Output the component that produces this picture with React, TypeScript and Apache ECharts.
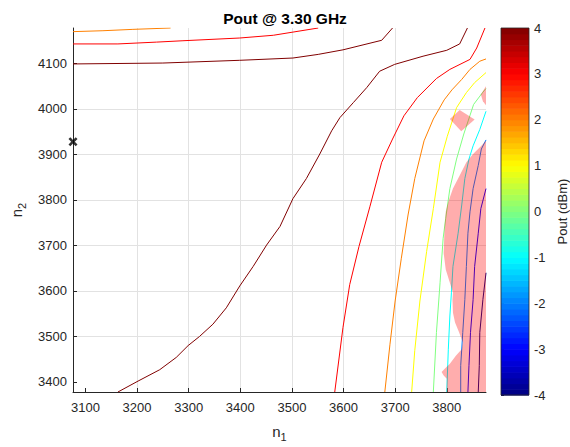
import React, { useEffect, useRef } from 'react';
import * as echarts from 'echarts';

const X_MIN = 3076;
const X_MAX = 3876;
const Y_MIN = 3378;
const Y_MAX = 4178;
const xTicks = [3100, 3200, 3300, 3400, 3500, 3600, 3700, 3800];
const yTicks = [3400, 3500, 3600, 3700, 3800, 3900, 4000, 4100];
const cbTicks = [-4, -3, -2, -1, 0, 1, 2, 3, 4];
const CB_MIN = -4;
const CB_MAX = 4;
const CB_STEPS = 64;

const marker = [[3076, 3928]];

const contour4Top = [[3076, 4099], [3250, 4101], [3399, 4107], [3502, 4112], [3551, 4120], [3599, 4130], [3674, 4151], [3695, 4178]];
const contour4Diag = [[3163, 3378], [3202, 3402], [3244, 3427], [3276, 3454], [3299, 3480], [3321, 3500], [3347, 3527], [3373, 3563], [3399, 3611], [3425, 3654], [3451, 3701], [3477, 3742], [3502, 3803], [3528, 3847], [3554, 3901], [3577, 3952], [3593, 3981], [3619, 4014], [3645, 4047], [3670, 4083], [3699, 4098], [3754, 4116], [3800, 4129], [3825, 4143], [3840, 4178]];
const contour3Top = [[3076, 4143], [3163, 4143], [3238, 4147], [3289, 4150], [3399, 4156], [3464, 4162], [3551, 4178]];
const contour3Right = [[3583, 3378], [3599, 3520], [3612, 3614], [3630, 3698], [3651, 3785], [3674, 3883], [3695, 3934], [3717, 3985], [3743, 4025], [3780, 4067], [3806, 4087], [3845, 4109], [3858, 4134], [3874, 4178]];
const contour2Top = [[3076, 4170], [3134, 4172], [3192, 4175], [3265, 4178]];
const contour2Right = [[3680, 3378], [3690, 3483], [3700, 3578], [3712, 3672], [3725, 3767], [3738, 3847], [3756, 3930], [3774, 3978], [3795, 4020], [3810, 4042], [3829, 4065], [3845, 4087], [3864, 4105], [3876, 4110]];
const contour1 = [[3732, 3378], [3738, 3469], [3748, 3578], [3761, 3687], [3774, 3781], [3787, 3883], [3801, 3940], [3819, 4003], [3838, 4036], [3854, 4058], [3876, 4080]];
const contour0 = [[3774, 3378], [3780, 3509], [3787, 3618], [3793, 3716], [3798, 3760], [3806, 3825], [3819, 3890], [3833, 3945], [3852, 4010], [3870, 4037], [3876, 4045]];
const contourM1 = [[3800, 3378], [3803, 3472], [3806, 3545], [3809, 3596], [3812, 3654], [3822, 3727], [3829, 3789], [3835, 3847], [3843, 3890], [3851, 3919], [3864, 3955], [3876, 3995]];
const contourM2 = [[3827, 3378], [3827, 3436], [3831, 3509], [3835, 3581], [3838, 3654], [3841, 3727], [3845, 3774], [3851, 3825], [3861, 3876], [3867, 3912], [3876, 3932]];
const contourM3 = [[3841, 3378], [3843, 3436], [3846, 3509], [3851, 3581], [3854, 3654], [3861, 3727], [3866, 3781], [3876, 3825]];
const contourM4 = [[3861, 3378], [3863, 3436], [3864, 3509], [3870, 3581], [3876, 3640]];

const contours = [
  { level: 4, pts: contour4Top },
  { level: 4, pts: contour4Diag },
  { level: 3, pts: contour3Top },
  { level: 3, pts: contour3Right },
  { level: 2, pts: contour2Top },
  { level: 2, pts: contour2Right },
  { level: 1, pts: contour1 },
  { level: 0, pts: contour0 },
  { level: -1, pts: contourM1 },
  { level: -2, pts: contourM2 },
  { level: -3, pts: contourM3 },
  { level: -4, pts: contourM4 },
];

const pinkDiamond = [[3806, 3978], [3825, 3998], [3854, 3977], [3828, 3951]];
const pinkEdge = [[3876, 4050], [3866, 4032], [3870, 4017], [3876, 4008]];
const pinkMain = [[3876, 3930], [3867, 3919], [3851, 3901], [3838, 3883], [3825, 3854], [3812, 3825], [3803, 3796], [3798, 3774], [3796, 3745], [3795, 3716], [3794, 3683], [3798, 3647], [3806, 3618], [3812, 3596], [3811, 3581], [3812, 3552], [3816, 3531], [3824, 3509], [3831, 3487], [3829, 3472], [3818, 3458], [3806, 3440], [3796, 3429], [3790, 3422], [3794, 3414], [3800, 3407], [3800, 3378], [3876, 3378]];
const pinkRegions = [pinkDiamond, pinkEdge, pinkMain];

const FONT = '"Liberation Sans", Arial, Helvetica, sans-serif';
const TXT = '#262626';

function jet(t: number): string {
  const c = (v: number) => Math.max(0, Math.min(1, v));
  const r = c(1.5 - Math.abs(4 * t - 3));
  const g = c(1.5 - Math.abs(4 * t - 2));
  const b = c(1.5 - Math.abs(4 * t - 1));
  return `rgb(${Math.round(r * 255)},${Math.round(g * 255)},${Math.round(b * 255)})`;
}
const levelColor = (lv: number) => jet((lv - CB_MIN) / (CB_MAX - CB_MIN));
const plain = (v: number) => String(v);

export default function App() {
  const ref = useRef<HTMLDivElement>(null);
  useEffect(() => {
    if (!ref.current) return;
    const chart = echarts.init(ref.current, null, { renderer: 'svg' });

    const cbData = Array.from({ length: CB_STEPS }, (_, i) => i);
    const cbStep = (CB_MAX - CB_MIN) / CB_STEPS;

    const lineSeries = contours.map((c) => ({
      type: 'line',
      xAxisIndex: 0,
      yAxisIndex: 0,
      data: c.pts,
      showSymbol: false,
      symbol: 'none',
      smooth: false,
      lineStyle: { color: levelColor(c.level), width: 1 },
      silent: true,
      z: 3,
    }));

    const subRich = {
      n: { fontSize: 15, color: TXT, fontFamily: FONT },
      s: { fontSize: 11, color: TXT, fontFamily: FONT, padding: [10, 0, 0, 0] },
    };

    const option: any = {
      animation: false,
      backgroundColor: '#ffffff',
      title: {
        text: 'Pout @ 3.30 GHz',
        left: 280,
        textAlign: 'center',
        top: 5,
        textStyle: { fontFamily: FONT, fontSize: 15.5, fontWeight: 'bold', color: '#000' },
      },
      grid: [
        { left: 73, top: 28, width: 413, height: 367 },
        { left: 501, top: 28, width: 29, height: 367 },
      ],
      xAxis: [
        {
          type: 'value',
          gridIndex: 0,
          min: X_MIN,
          max: X_MAX,
          axisLine: { show: true, onZero: false, lineStyle: { color: TXT, width: 1 } },
          axisTick: { show: true, inside: true, length: 4, customValues: xTicks, lineStyle: { color: TXT } },
          axisLabel: { customValues: xTicks, formatter: plain, fontFamily: FONT, fontSize: 13, color: TXT, margin: 9 },
          splitLine: { show: true, showMinLine: false, showMaxLine: false, lineStyle: { color: '#e2e2e2', width: 1 } },
          name: '{n|n}{s|1}',
          nameLocation: 'middle',
          nameGap: 29,
          nameTextStyle: { color: TXT, fontFamily: FONT, rich: subRich },
        },
        { type: 'value', gridIndex: 1, min: 0, max: 1, show: false },
      ],
      yAxis: [
        {
          type: 'value',
          gridIndex: 0,
          min: Y_MIN,
          max: Y_MAX,
          axisLine: { show: true, onZero: false, lineStyle: { color: TXT, width: 1 } },
          axisTick: { show: true, inside: true, length: 4, customValues: yTicks, lineStyle: { color: TXT } },
          axisLabel: { customValues: yTicks, formatter: plain, fontFamily: FONT, fontSize: 13, color: TXT, margin: 6 },
          splitLine: { show: true, showMinLine: false, showMaxLine: false, lineStyle: { color: '#e2e2e2', width: 1 } },
          name: '{n|n}{s|2}',
          nameLocation: 'middle',
          nameGap: 44,
          nameRotate: 90,
          nameTextStyle: { color: TXT, fontFamily: FONT, rich: subRich },
        },
        {
          type: 'value',
          gridIndex: 1,
          min: CB_MIN,
          max: CB_MAX,
          interval: 1,
          position: 'right',
          axisLine: { show: false },
          axisTick: { show: true, inside: false, length: 3, customValues: cbTicks, lineStyle: { color: TXT } },
          axisLabel: { customValues: cbTicks, formatter: plain, fontFamily: FONT, fontSize: 13, color: TXT, margin: 5 },
          splitLine: { show: false },
          name: 'Pout (dBm)',
          nameLocation: 'middle',
          nameRotate: 90,
          nameGap: 27,
          nameTextStyle: { fontFamily: FONT, fontSize: 13, color: TXT },
        },
      ],
      series: [
        ...lineSeries,
        {
          type: 'custom',
          xAxisIndex: 0,
          yAxisIndex: 0,
          data: pinkRegions.map((_, i) => i),
          silent: true,
          z: 5,
          renderItem: (params: any, api: any) => {
            const idx = api.value(0);
            const pts = pinkRegions[idx].map((p) => api.coord(p));
            return {
              type: 'polygon',
              shape: { points: pts },
              style: { fill: 'rgba(255,0,0,0.32)', stroke: 'none' },
            };
          },
        },
        {
          type: 'scatter',
          xAxisIndex: 0,
          yAxisIndex: 0,
          data: marker,
          symbol: 'path://M0,2L2,0L5,3L8,0L10,2L7,5L10,8L8,10L5,7L2,10L0,8L3,5Z',
          symbolSize: 9,
          itemStyle: { color: '#000' },
          clip: false,
          silent: true,
          z: 10,
        },
        {
          type: 'custom',
          xAxisIndex: 1,
          yAxisIndex: 1,
          data: cbData,
          silent: true,
          renderItem: (params: any, api: any) => {
            const i = api.value(0);
            const lo = CB_MIN + i * cbStep;
            const hi = lo + cbStep;
            const p0 = api.coord([0, hi]);
            const p1 = api.coord([1, lo]);
            return {
              type: 'rect',
              shape: { x: p0[0], y: p0[1], width: p1[0] - p0[0], height: p1[1] - p0[1] + 0.6 },
              style: { fill: jet((i + 0.5) / CB_STEPS), stroke: 'none' },
            };
          },
        },
        {
          type: 'custom',
          xAxisIndex: 1,
          yAxisIndex: 1,
          data: [0],
          silent: true,
          z: 4,
          renderItem: (params: any, api: any) => {
            const p0 = api.coord([0, CB_MAX]);
            const p1 = api.coord([1, CB_MIN]);
            return {
              type: 'rect',
              shape: { x: p0[0], y: p0[1], width: p1[0] - p0[0], height: p1[1] - p0[1] },
              style: { fill: 'none', stroke: TXT, lineWidth: 0.8 },
            };
          },
        },
      ],
    };
    chart.setOption(option);
    return () => chart.dispose();
  }, []);
  return <div ref={ref} style={{ position: 'fixed', left: 0, top: 0, width: 570, height: 447 }} />;
}
